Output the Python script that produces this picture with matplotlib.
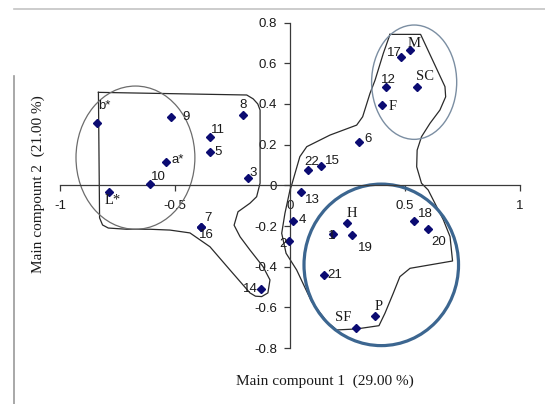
import matplotlib
matplotlib.use("Agg")
import matplotlib.pyplot as plt
from matplotlib.patches import Ellipse
from matplotlib.lines import Line2D

# sample labels and their scores on the two main compounds
labels = ["b*", "9", "8", "11", "5", "a*", "10", "3", "L*",
          "17", "M", "12", "SC", "F", "6", "22", "15", "13",
          "4", "2", "7", "16", "14", "1", "H", "19", "21",
          "P", "SF", "18", "20"]
pc1 = [-0.840, -0.517, -0.206, -0.347, -0.347, -0.539, -0.609, -0.183, -0.788,
       0.481, 0.520, 0.417, 0.551, 0.400, 0.299, 0.078, 0.136, 0.048,
       0.014, -0.004, -0.386, -0.386, -0.126, 0.186, 0.246, 0.268, 0.147,
       0.370, 0.287, 0.540, 0.600]
pc2 = [0.305, 0.334, 0.344, 0.236, 0.165, 0.116, 0.006, 0.036, -0.034,
       0.632, 0.663, 0.482, 0.483, 0.395, 0.214, 0.075, 0.096, -0.033,
       -0.174, -0.274, -0.203, -0.203, -0.511, -0.241, -0.184, -0.244, -0.442,
       -0.642, -0.703, -0.174, -0.213]

x_ticks = [-1, -0.5, 0, 0.5, 1]
x_ticklabels = ["-1", "-0.5", "0", "0.5", "1"]
y_ticks = [-0.8, -0.6, -0.4, -0.2, 0, 0.2, 0.4, 0.6, 0.8]
y_ticklabels = ["-0.8", "-0.6", "-0.4", "-0.2", "0", "0.2", "0.4", "0.6", "0.8"]

# label offsets in pixels (dx right, dy down)
label_offsets = [(8, -17), (15, 0), (0, -10), (8, -7), (8, 0), (12, -2), (8, -7), (5, -5), (4, 8),
                 (-6, -4), (5, -7), (3, -7), (8, -11), (11, 2), (9, -3), (4, -8), (11, -5), (11, 8),
                 (9, -1), (-6, 3), (7, -9), (5, 8), (-11, 0), (-1, 2), (5, -9), (14, 13), (11, 0),
                 (4, -9), (-13, -11), (11, -7), (11, 13)]
serif_labels = {"L*", "M", "SC", "F", "H", "P", "SF"}

# group outlines (hand traced)
left_hull = [(-0.833, 0.457), (-0.188, 0.444), (-0.160, 0.425), (-0.140, 0.400), (-0.130, 0.370),
             (-0.130, 0.075), (-0.130, 0.011), (-0.145, -0.056), (-0.174, -0.088), (-0.226, -0.130),
             (-0.243, -0.196), (-0.217, -0.253), (-0.174, -0.318), (-0.117, -0.400), (-0.087, -0.465),
             (-0.096, -0.529), (-0.123, -0.547), (-0.150, -0.545), (-0.174, -0.529), (-0.261, -0.416),
             (-0.348, -0.302), (-0.435, -0.234), (-0.522, -0.220), (-0.609, -0.216), (-0.710, -0.216),
             (-0.790, -0.210), (-0.815, -0.195), (-0.828, -0.160), (-0.833, 0.457)]
right_hull = [(0.435, 0.742), (0.568, 0.742), (0.674, 0.485), (0.677, 0.435), (0.652, 0.370),
              (0.609, 0.305), (0.572, 0.239), (0.553, 0.173), (0.551, 0.091), (0.572, 0.010),
              (0.601, -0.023), (0.667, -0.170), (0.696, -0.252), (0.707, -0.372), (0.522, -0.408),
              (0.478, -0.449), (0.449, -0.531), (0.413, -0.629), (0.387, -0.690), (0.290, -0.706),
              (0.203, -0.711), (0.160, -0.670), (0.094, -0.572), (0.029, -0.416), (-0.017, -0.334),
              (-0.036, -0.236), (-0.022, -0.138), (0.000, -0.023), (0.007, 0.000), (0.022, 0.059),
              (0.043, 0.141), (0.073, 0.190), (0.174, 0.247), (0.290, 0.296), (0.316, 0.337),
              (0.348, 0.452), (0.370, 0.517), (0.406, 0.649), (0.435, 0.742)]

fig = plt.figure(figsize=(5.45, 4.04), dpi=100)
fig.patch.set_facecolor("white")
ax = fig.add_axes([0, 0, 1, 1])
ax.patch.set_visible(False)
ax.set_xlim(-1.261, 1.109)
ax.set_ylim(-1.075, 0.911)

# outline frame of the original chart area
fig.add_artist(Line2D([14 / 545, 1], [1 - 9 / 404] * 2, color="#c4c4c4", lw=1.2))
fig.add_artist(Line2D([14 / 545] * 2, [0, 1 - 76 / 404], color="#9a9a9a", lw=1.2))

for hull in (left_hull, right_hull):
    hx, hy = zip(*hull)
    ax.plot(hx, hy, color="#2a2a2a", lw=0.9, zorder=2)

ax.add_patch(Ellipse((-0.672, 0.136), 0.517, 0.704, fill=False, ec="#6c6c6c", lw=0.9, zorder=2))
ax.add_patch(Ellipse((0.540, 0.507), 0.370, 0.562, fill=False, ec="#7b8ea2", lw=1.0, zorder=2))
ax.add_patch(Ellipse((0.397, -0.391), 0.672, 0.794, fill=False, ec="#3c6690", lw=2.3, zorder=2))

ax.plot(pc1, pc2, linestyle="none", marker="D", markersize=4.0, color="#0b0b72", zorder=4)

for lab, x, y, (dx, dy) in zip(labels, pc1, pc2, label_offsets):
    if lab in serif_labels:
        fam, fs = "Liberation Serif", 10.5
    else:
        fam, fs = "Liberation Sans", 9.5
    ax.annotate(lab, (x, y), xytext=(dx * 0.72, -dy * 0.72), textcoords="offset points",
                ha="center", va="center", fontsize=fs, family=fam, color="#1a1a1a", zorder=5)

# axes crossing at the origin
for side in ("top", "right"):
    ax.spines[side].set_visible(False)
ax.spines["left"].set_position(("data", 0))
ax.spines["bottom"].set_position(("data", 0))
ax.spines["left"].set_bounds(-0.8, 0.8)
ax.spines["bottom"].set_bounds(-1, 1)
for side in ("left", "bottom"):
    ax.spines[side].set_color("#3a3a3a")
    ax.spines[side].set_linewidth(0.9)

ax.set_xticks(x_ticks)
ax.set_xticklabels(x_ticklabels)
ax.set_yticks(y_ticks)
ax.set_yticklabels(y_ticklabels)
ax.tick_params(axis="both", direction="out", length=4.5, width=0.9, color="#3a3a3a",
               labelsize=9.5, labelcolor="#1a1a1a")
ax.tick_params(axis="x", pad=6)
ax.tick_params(axis="y", pad=5)
for t in ax.get_xticklabels() + ax.get_yticklabels():
    t.set_family("Liberation Sans")

fig.text(325 / 545, 1 - 381 / 404, "Main compount 1  (29.00 %)", ha="center", va="center",
         fontsize=11, family="Liberation Serif", color="#1a1a1a")
fig.text(38 / 545, 1 - 184 / 404, "Main compount 2  (21.00 %)", ha="center", va="center",
         rotation=90, fontsize=11, family="Liberation Serif", color="#1a1a1a")

fig.savefig("out.png", dpi=100)
